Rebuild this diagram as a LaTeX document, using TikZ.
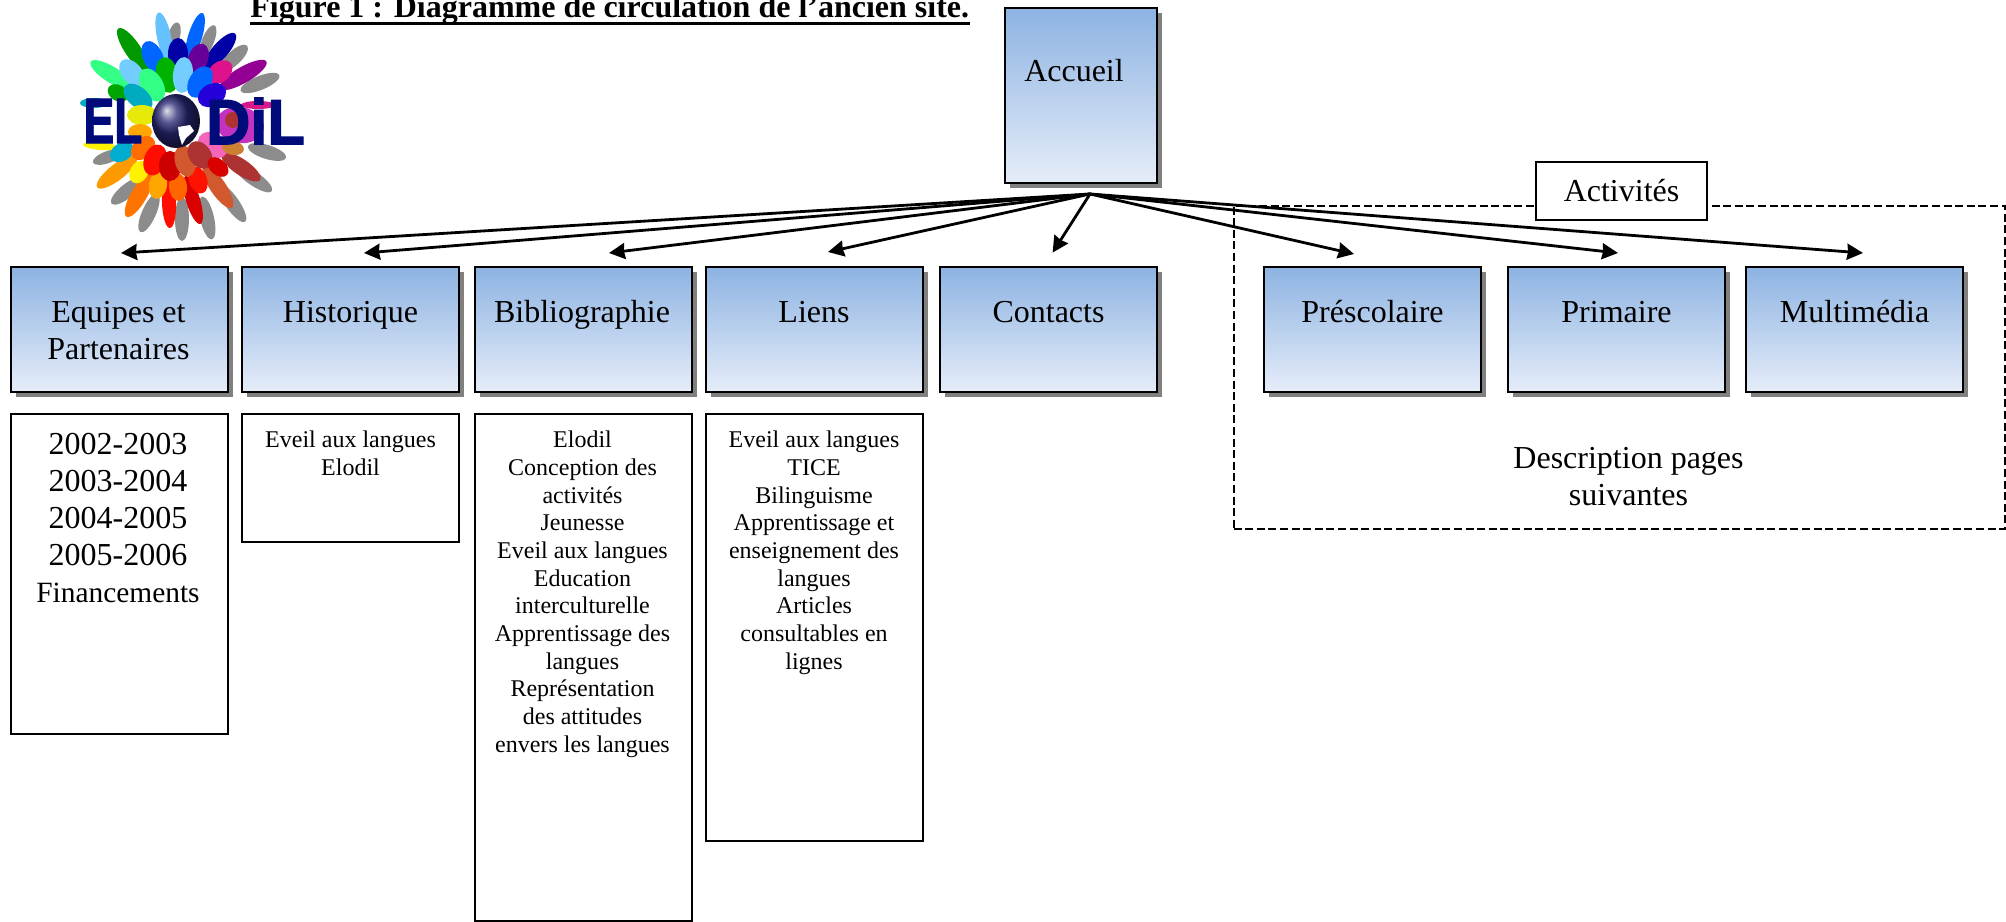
\documentclass[tikz,border=0pt]{standalone}
\usepackage{fontspec}
\usepackage{graphicx}
\setmainfont{Liberation Serif}
\newfontfamily\logofont[BoldFeatures={FakeBold=2}]{Liberation Sans}
\usepackage{tikz}
\usetikzlibrary{arrows.meta,shadows}
\definecolor{boxtop}{HTML}{8DB3E2}
\definecolor{boxbot}{HTML}{E6EDF9}
\definecolor{logonavy}{HTML}{000A78}
\tikzset{pagebox/.style={draw=black, line width=1pt, inner sep=0pt, top color=boxtop, bottom color=boxbot,
  drop shadow={shadow xshift=2.5pt, shadow yshift=-2.5pt, fill=black!50, opacity=1}}}
\tikzset{listbox/.style={draw=black, line width=1pt, inner sep=0pt, minimum width=108.5pt}}
\tikzset{bigtxt/.style={anchor=north, inner sep=0pt, align=center, font=\fontsize{16}{18.5}\selectfont, execute at begin node=\strut}}
\tikzset{smalltxt/.style={anchor=north, inner sep=0pt, align=center, font=\fontsize{12}{13.85}\selectfont, execute at begin node=\strut}}
\tikzset{linkarrow/.style={line width=1.4pt, -{Stealth[length=8pt, width=8pt, inset=.5pt]}}}
\tikzset{logotxt/.style={inner sep=0pt, text=logonavy, font=\logofont\bfseries\fontsize{32}{32}\selectfont}}

\begin{document}
\begin{tikzpicture}[x=.5pt, y=-.5pt]
\useasboundingbox (0,0) rectangle (2006,921);

\fill[black!45] (174,36) ellipse [x radius=14, y radius=6, rotate=75];
\fill[black!45] (208,41) ellipse [x radius=17, y radius=6, rotate=68];
\fill[black!45] (234,58) ellipse [x radius=18, y radius=7, rotate=43];
\fill[black!45] (260,83) ellipse [x radius=21, y radius=7, rotate=22];
\fill[black!45] (267,152) ellipse [x radius=20, y radius=7, rotate=163];
\fill[black!45] (253,178) ellipse [x radius=23, y radius=7, rotate=145];
\fill[black!45] (232,203) ellipse [x radius=23, y radius=7, rotate=125];
\fill[black!45] (207,218) ellipse [x radius=22, y radius=7, rotate=103];
\fill[black!45] (182,219) ellipse [x radius=22, y radius=7, rotate=90];
\fill[black!45] (149,213) ellipse [x radius=21, y radius=7, rotate=66];
\fill[black!45] (127,191) ellipse [x radius=20, y radius=7, rotate=39];
\fill[black!45] (108,157) ellipse [x radius=16, y radius=6, rotate=20];

\fill[blue!40!cyan!60] (164,37) ellipse [x radius=25, y radius=7, rotate=102];
\fill[blue!60!cyan] (195,37) ellipse [x radius=25, y radius=7, rotate=73];
\fill[green!60!black] (133,50) ellipse [x radius=26, y radius=8, rotate=124];
\fill[blue!65!black] (220,51) ellipse [x radius=23, y radius=8, rotate=49];
\fill[green!60!cyan!80] (112,75) ellipse [x radius=25, y radius=8, rotate=148];
\fill[violet!85!magenta] (243,75) ellipse [x radius=27, y radius=8, rotate=30];
\fill[magenta!80!violet] (258,105) ellipse [x radius=17, y radius=4, rotate=0];
\fill[cyan!70!green] (94,103) ellipse [x radius=14, y radius=5, rotate=0];
\fill[yellow] (100,146) ellipse [x radius=17, y radius=4, rotate=175];
\fill[orange!80!yellow] (117,172) ellipse [x radius=25, y radius=8, rotate=38];
\fill[orange!90!red] (139,195) ellipse [x radius=25, y radius=8, rotate=60];
\fill[red!90!orange] (169,203) ellipse [x radius=25, y radius=7, rotate=92];
\fill[red!85!black] (193,200) ellipse [x radius=25, y radius=7, rotate=107];
\fill[brown!70!red] (218,187) ellipse [x radius=25, y radius=8, rotate=124];
\fill[red!60!black!80] (241,167) ellipse [x radius=23, y radius=8, rotate=146];
\fill[violet!60!magenta!80!white] (240,125) ellipse [x radius=24, y radius=18, rotate=170];
\fill[magenta!60!white] (213,145) ellipse [x radius=16, y radius=12, rotate=150];
\fill[brown!80!orange] (233,148) ellipse [x radius=11, y radius=7, rotate=170];
\fill[red!60!black!80] (233,120) ellipse [x radius=8, y radius=8, rotate=0];

\fill[blue!60!cyan] (153,57) ellipse [x radius=17, y radius=10, rotate=115];
\fill[blue!65!black] (178,54) ellipse [x radius=16, y radius=10, rotate=90];
\fill[violet!80!blue] (198,59) ellipse [x radius=16, y radius=10, rotate=70];
\fill[magenta!85!violet] (220,72) ellipse [x radius=14, y radius=10, rotate=40];
\fill[blue!35!cyan!55] (132,73) ellipse [x radius=16, y radius=10, rotate=130];
\fill[green!70!black] (167,75) ellipse [x radius=18, y radius=11, rotate=100];
\fill[blue!35!cyan!55] (183,75) ellipse [x radius=18, y radius=10, rotate=85];
\fill[blue!60!cyan] (200,82) ellipse [x radius=17, y radius=11, rotate=60];
\fill[green!60!cyan!80] (152,85) ellipse [x radius=18, y radius=11, rotate=120];
\fill[blue!70!violet] (212,95) ellipse [x radius=15, y radius=11, rotate=30];
\fill[green!65!black] (118,93) ellipse [x radius=11, y radius=8, rotate=150];
\fill[cyan!70!green] (138,97) ellipse [x radius=17, y radius=10, rotate=140];
\fill[yellow!90!green] (142,115) ellipse [x radius=15, y radius=10, rotate=180];
\fill[orange!70!yellow] (140,132) ellipse [x radius=12, y radius=8, rotate=180];
\fill[cyan!80!green] (122,152) ellipse [x radius=13, y radius=9, rotate=30];
\fill[orange!85!red] (143,148) ellipse [x radius=14, y radius=10, rotate=45];
\fill[yellow] (139,172) ellipse [x radius=12, y radius=9, rotate=60];
\fill[orange!70!yellow] (158,185) ellipse [x radius=14, y radius=9, rotate=80];
\fill[orange!80!red] (178,187) ellipse [x radius=14, y radius=9, rotate=95];
\fill[red!85!orange] (198,180) ellipse [x radius=14, y radius=9, rotate=110];
\fill[red!90!orange] (155,160) ellipse [x radius=16, y radius=11, rotate=70];
\fill[red!80!black] (170,166) ellipse [x radius=15, y radius=11, rotate=90];
\fill[brown!70!red] (185,161) ellipse [x radius=16, y radius=10, rotate=105];
\fill[red!60!black!80] (200,155) ellipse [x radius=15, y radius=11, rotate=125];
\fill[red!85!black] (218,167) ellipse [x radius=12, y radius=8, rotate=140];

\shade[ball color=blue!35!black!85] (176,121) ellipse [x radius=24, y radius=27];
\fill[white] (178,127) -- (190,125) -- (194,131) -- (186,138) -- (182,145) -- (179,135) -- cycle;
\node[logotxt] (logoel) at (113,121) {\scalebox{.72}[1]{EL}};
\node[logotxt] (logodil) at (255.5,121) {\scalebox{.96}[1]{DiL}};

\node[anchor=base west, inner sep=0pt, font=\bfseries\fontsize{16}{18.5}\selectfont] (title) at (250,18) {Figure 1 : Diagramme de circulation de l’ancien site.};
\draw[line width=1.5pt] ([yshift=-2.5pt]title.base west) -- ([yshift=-2.5pt]title.base east);

\node[draw=black, line width=1pt, dash pattern=on 4pt off 1.8pt, inner sep=0pt, minimum width=385.75pt, minimum height=161.75pt] (zone) at (1619.25,367.25) {};

\node[pagebox, minimum width=76pt, minimum height=87.5pt] (accueil) at (1081,95.5) {};
\node[bigtxt] (accueiltxt) at (1074,55) {Accueil};

\node[pagebox, minimum width=108.5pt, minimum height=62.5pt] (equipes) at (119,329.5) {};
\node[pagebox, minimum width=108.5pt, minimum height=62.5pt] (historique) at (350.5,329.5) {};
\node[pagebox, minimum width=108.5pt, minimum height=62.5pt] (biblio) at (583,329.5) {};
\node[pagebox, minimum width=108.5pt, minimum height=62.5pt] (liens) at (814.5,329.5) {};
\node[pagebox, minimum width=108.5pt, minimum height=62.5pt] (contacts) at (1048.5,329.5) {};
\node[pagebox, minimum width=108.5pt, minimum height=62.5pt] (prescolaire) at (1372.5,329.5) {};
\node[pagebox, minimum width=108.5pt, minimum height=62.5pt] (primaire) at (1616.5,329.5) {};
\node[pagebox, minimum width=108.5pt, minimum height=62.5pt] (multimedia) at (1854.6,329.5) {};

\node[bigtxt] (equipestxt) at (118.5,301) {Equipes et\\Partenaires};
\node[bigtxt] (historiquetxt) at (350.5,296.5) {Historique};
\node[bigtxt] (bibliotxt) at (582,296.5) {Bibliographie};
\node[bigtxt] (lienstxt) at (814,296.5) {Liens};
\node[bigtxt] (contactstxt) at (1048.5,296.5) {Contacts};
\node[bigtxt] (prescolairetxt) at (1372.5,296.5) {Préscolaire};
\node[bigtxt] (primairetxt) at (1616.5,296.5) {Primaire};
\node[bigtxt] (multimediatxt) at (1854.6,296.5) {Multimédia};

\node[listbox, minimum height=160pt] (equipeslist) at (119,574) {};
\node[listbox, minimum height=64pt] (historiquelist) at (350.5,478) {};
\node[listbox, minimum height=253.5pt] (bibliolist) at (583,667.5) {};
\node[listbox, minimum height=213.5pt] (lienslist) at (814.5,627.5) {};

\node[bigtxt] (equipesitems) at (118,433) {2002-2003\\2003-2004\\2004-2005\\2005-2006\\{\fontsize{14.7}{18.5}\selectfont Financements}};
\node[smalltxt] (historiqueitems) at (350.5,430.6) {Eveil aux langues\\Elodil};
\node[smalltxt] (biblioitems) at (582.5,430.6) {Elodil\\Conception des\\activités\\Jeunesse\\Eveil aux langues\\Education\\interculturelle\\Apprentissage des\\langues\\Représentation\\des attitudes\\envers les langues};
\node[smalltxt] (liensitems) at (814,430.6) {Eveil aux langues\\TICE\\Bilinguisme\\Apprentissage et\\enseignement des\\langues\\Articles\\consultables en\\lignes};

\coordinate (hub) at (1090,194);
\coordinate (toequipes) at (121,253);
\coordinate (tohistorique) at (364,253);
\coordinate (tobiblio) at (609,253);
\coordinate (toliens) at (828,252);
\coordinate (tocontacts) at (1052.6,252.6);
\coordinate (toprescolaire) at (1354,254);
\coordinate (toprimaire) at (1618,253);
\coordinate (tomultimedia) at (1863,253);

\draw[linkarrow] (hub) -- (toequipes);
\draw[linkarrow] (hub) -- (tohistorique);
\draw[linkarrow] (hub) -- (tobiblio);
\draw[linkarrow] (hub) -- (toliens);
\draw[linkarrow] (hub) -- (tocontacts);
\draw[linkarrow] (hub) -- (toprescolaire);
\draw[linkarrow] (hub) -- (toprimaire);
\draw[linkarrow] (hub) -- (tomultimedia);

\node[draw=black, line width=1pt, fill=white, inner sep=0pt, minimum width=85.5pt, minimum height=29pt, font=\fontsize{16}{18.5}\selectfont] (activites) at (1621.5,191) {\raisebox{-.5pt}{Activités}};
\node[bigtxt] (zonetxt) at (1628.5,446.5) {Description pages\\suivantes};

\end{tikzpicture}
\end{document}
